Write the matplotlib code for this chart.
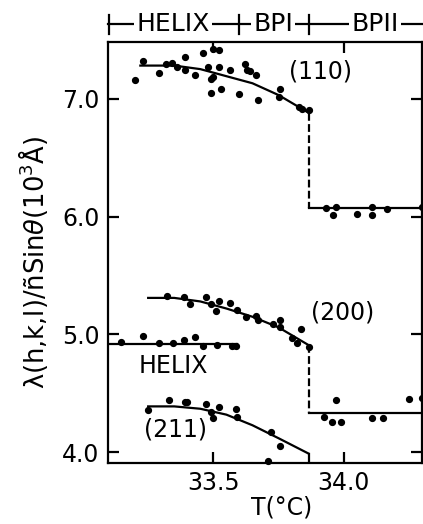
import matplotlib
matplotlib.use("Agg")
import matplotlib.pyplot as plt

# ---- data ----
# (110) reflection
t110 = [33.20, 33.23, 33.29, 33.32, 33.34, 33.36, 33.39, 33.39, 33.43, 33.46, 33.48, 33.49,
        33.50, 33.50, 33.52, 33.49, 33.53, 33.52, 33.565, 33.60, 33.62, 33.63, 33.64, 33.665,
        33.67, 33.755, 33.75, 33.83, 33.84, 33.867]
v110 = [7.16, 7.32, 7.22, 7.29, 7.30, 7.27, 7.35, 7.24, 7.20, 7.39, 7.27, 7.17,
        7.18, 7.42, 7.41, 7.05, 7.08, 7.27, 7.24, 7.04, 7.29, 7.24, 7.23, 7.20,
        6.99, 7.08, 7.01, 6.93, 6.91, 6.90]
t110b = [33.93, 33.96, 33.97, 34.05, 34.11, 34.11, 34.165, 34.30]
v110b = [6.07, 6.01, 6.08, 6.02, 6.08, 6.01, 6.06, 6.08]
fit110_t = [33.22, 33.35, 33.45, 33.55, 33.65, 33.75, 33.865]
fit110_v = [7.28, 7.28, 7.25, 7.19, 7.13, 7.03, 6.88]
bp2_110 = 6.07

# (200) reflection
t200 = [33.324, 33.386, 33.41, 33.47, 33.49, 33.51, 33.52, 33.565, 33.59, 33.627, 33.664,
        33.67, 33.73, 33.755, 33.757, 33.80, 33.835, 33.82, 33.867]
v200 = [5.33, 5.32, 5.255, 5.32, 5.255, 5.195, 5.28, 5.27, 5.21, 5.15, 5.16,
        5.125, 5.09, 5.12, 5.06, 4.97, 5.05, 4.93, 4.89]
t200b = [33.925, 33.955, 33.99, 33.97, 34.11, 34.15, 34.25, 34.30]
v200b = [4.30, 4.26, 4.26, 4.44, 4.29, 4.29, 4.45, 4.46]
fit200_t = [33.25, 33.35, 33.45, 33.55, 33.65, 33.75, 33.865]
fit200_v = [5.31, 5.31, 5.28, 5.22, 5.15, 5.06, 4.91]
bp2_200 = 4.33

# helix phase
th = [33.145, 33.23, 33.29, 33.345, 33.386, 33.43, 33.46, 33.514, 33.57, 33.585]
vh = [4.94, 4.99, 4.93, 4.93, 4.955, 4.98, 4.90, 4.91, 4.90, 4.90]
helix_level = 4.92
helix_t = [33.10, 33.59]

# (211) reflection
t211 = [33.25, 33.33, 33.39, 33.40, 33.47, 33.49, 33.50, 33.52, 33.585, 33.59, 33.72,
        33.755, 33.71]
v211 = [4.36, 4.44, 4.43, 4.43, 4.41, 4.34, 4.29, 4.385, 4.37, 4.30, 4.17,
        4.05, 3.93]
fit211_t = [33.25, 33.35, 33.45, 33.55, 33.65, 33.75, 33.865]
fit211_v = [4.39, 4.39, 4.37, 4.32, 4.23, 4.12, 3.99]

t_trans = 33.865
phase_bounds = [33.10, 33.60, 33.865]
phase_names = ["HELIX", "BPI", "BPII"]
phase_centers = [33.345, 33.73, 34.12]

xticks = [33.5, 34.0]
xticklabels = ["33.5", "34.0"]
yticks = [4.0, 5.0, 6.0, 7.0]
yticklabels = ["4.0", "5.0", "6.0", "7.0"]
xlim = (33.096, 34.30)
ylim = (3.91, 7.48)

# ---- plot ----
plt.rcParams['font.family'] = ['DejaVu Sans']
fs = 17
fig = plt.figure(figsize=(4.23, 5.24), dpi=100)
ax = fig.add_axes([108/423, 1-463/524, 314/423, 421/524])
ax.set_xlim(*xlim)
ax.set_ylim(*ylim)

lw = 1.6
ms = 4.2
kw = dict(ls='none', marker='o', ms=ms, color='black', clip_on=False)
dash = (0, (3.5, 1.5))
# fits
ax.plot(fit110_t, fit110_v, color='black', lw=lw)
ax.plot(fit200_t, fit200_v, color='black', lw=lw)
ax.plot(fit211_t, fit211_v, color='black', lw=lw)
ax.plot(helix_t, [helix_level]*2, color='black', lw=lw)
# transitions
ax.plot([t_trans, t_trans], [fit110_v[-1], bp2_110], color='black', lw=lw, ls=dash)
ax.plot([t_trans, xlim[1]], [bp2_110]*2, color='black', lw=lw)
ax.plot([t_trans, t_trans], [fit200_v[-1], bp2_200], color='black', lw=lw, ls=dash)
ax.plot([t_trans, xlim[1]], [bp2_200]*2, color='black', lw=lw)
ax.plot([t_trans, t_trans], [fit211_v[-1], ylim[0]], color='black', lw=lw)
# points
ax.plot(t110, v110, **kw)
ax.plot(t110b, v110b, **kw)
ax.plot(t200, v200, **kw)
ax.plot(t200b, v200b, **kw)
ax.plot(th, vh, **kw)
ax.plot(t211, v211, **kw)

# labels in plot
ax.text(33.91, 7.23, "(110)", fontsize=fs, ha='center', va='center')
ax.text(33.996, 5.19, "(200)", fontsize=fs, ha='center', va='center')
ax.text(33.354, 4.19, "(211)", fontsize=fs, ha='center', va='center')
ax.text(33.346, 4.73, "HELIX", fontsize=fs, ha='center', va='center')

# phase bar above the axes
ybar = 7.63
ax.plot([xlim[0], xlim[1]], [ybar, ybar], color='black', lw=lw, clip_on=False)
for b in phase_bounds:
    ax.plot([b, b], [ybar - 0.08, ybar + 0.08], color='black', lw=lw, clip_on=False)
for name, c in zip(phase_names, phase_centers):
    ax.text(c, ybar, name, fontsize=fs + 1, ha='center', va='center', clip_on=False,
            bbox=dict(facecolor='white', edgecolor='none', pad=1.5))

# axes styling
for s in ax.spines.values():
    s.set_linewidth(1.6)
ax.set_xticks(xticks)
ax.set_xticklabels(xticklabels)
ax.set_yticks(yticks)
ax.set_yticklabels(yticklabels)
ax.tick_params(direction='in', length=8, width=1.6, labelsize=fs,
               top=True, right=True, pad=6)
fig.text(282/423, 1 - 508/524, "T(°C)", fontsize=fs, ha='center', va='center')
fig.text(33/423, 1 - 262/524, "λ(h,k,l)/ñSin$\\theta$(10$^{3}$Å)", fontsize=18.5,
         rotation=90, ha='center', va='center')

fig.savefig("out.png", dpi=100)
